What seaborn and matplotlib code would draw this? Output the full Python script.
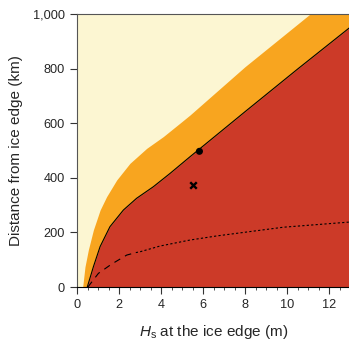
import matplotlib
matplotlib.use("Agg")
import matplotlib.pyplot as plt
from matplotlib.ticker import MultipleLocator, FuncFormatter
import seaborn as sns

# values
# outer (orange) band upper edge
hs_band = [0.27, 0.38, 0.54, 0.78, 1.10, 1.41, 1.89, 2.52, 3.32, 4.11, 4.90, 5.38, 8.0, 11.1, 13.5]
dist_band = [0, 74, 136, 209, 282, 331, 392, 453, 508, 551, 600, 630, 807, 1000, 1150]

# inner (red) region edge, drawn with the black line
hs_red = [0.49, 0.78, 1.10, 1.57, 2.21, 2.84, 3.63, 4.43, 5.38, 8.0, 10.5, 13.0]
dist_red = [0, 74, 148, 221, 282, 325, 367, 416, 477, 642, 798, 951]

# dashed / dotted curve
hs_dash = [0.52, 1.02, 1.65, 2.37, 2.8]
dist_dash = [0, 50, 84, 117, 126]
hs_dot = [2.8, 3.0, 3.95, 5.38, 6.65, 9.83, 13.0]
dist_dot = [126, 129, 150, 172, 187, 219, 238]

# observations
obs_dot = (5.83, 497)
obs_cross = (5.52, 374)

yellow = "#FCF6D2"
orange = "#F8A51F"
red = "#CC3A28"

sns.set_style("ticks")
plt.rcParams["font.family"] = ["Liberation Sans", "DejaVu Sans"]
plt.rcParams["mathtext.fontset"] = "custom"
plt.rcParams["mathtext.rm"] = "Liberation Sans"
plt.rcParams["mathtext.it"] = "Liberation Sans:italic"

fig = plt.figure(figsize=(3.49, 3.43), dpi=100)
ax = fig.add_axes([77 / 349, 56 / 343, 273 / 349, 273 / 343])
ax.set_facecolor(yellow)

ax.fill_between(hs_band, 0, dist_band, color=orange, lw=0)
ax.fill_between(hs_red, 0, dist_red, color=red, lw=0)

sns.lineplot(x=hs_red, y=dist_red, ax=ax, color="black", lw=0.8, sort=False, estimator=None)
sns.lineplot(x=hs_dash, y=dist_dash, ax=ax, color="black", lw=0.8, sort=False,
             estimator=None, linestyle=(0, (6, 5)))
sns.lineplot(x=hs_dot, y=dist_dot, ax=ax, color="black", lw=0.8, sort=False,
             estimator=None, linestyle=(0, (2, 2)))

sns.scatterplot(x=[obs_dot[0]], y=[obs_dot[1]], ax=ax, color="black", s=26,
                marker="o", edgecolor="none", zorder=5)
sns.scatterplot(x=[obs_cross[0]], y=[obs_cross[1]], ax=ax, color="black", s=22,
                marker="x", linewidth=1.7, zorder=5)

ax.set_xlim(0, 13)
ax.set_ylim(0, 1000)
ax.xaxis.set_major_locator(MultipleLocator(2))
ax.xaxis.set_minor_locator(MultipleLocator(0.5))
ax.yaxis.set_major_locator(MultipleLocator(200))
ax.yaxis.set_major_formatter(FuncFormatter(lambda v, p: f"{v:,.0f}"))

ax.tick_params(axis="both", which="major", length=5, width=0.8, labelsize=9.2,
               pad=4, color="#333333")
ax.tick_params(axis="x", which="minor", length=2.5, width=0.6, color="#333333")

for side in ["left", "bottom", "top", "right"]:
    ax.spines[side].set_linewidth(0.8)
    ax.spines[side].set_color("#555555")
ax.spines["bottom"].set_color("black")

ax.set_xlabel(r"$\mathit{H}_{\mathrm{s}}$ at the ice edge (m)", fontsize=11, labelpad=8.5)
ax.set_ylabel("Distance from ice edge (km)", fontsize=11, labelpad=7)

fig.savefig("out.png", dpi=100)
